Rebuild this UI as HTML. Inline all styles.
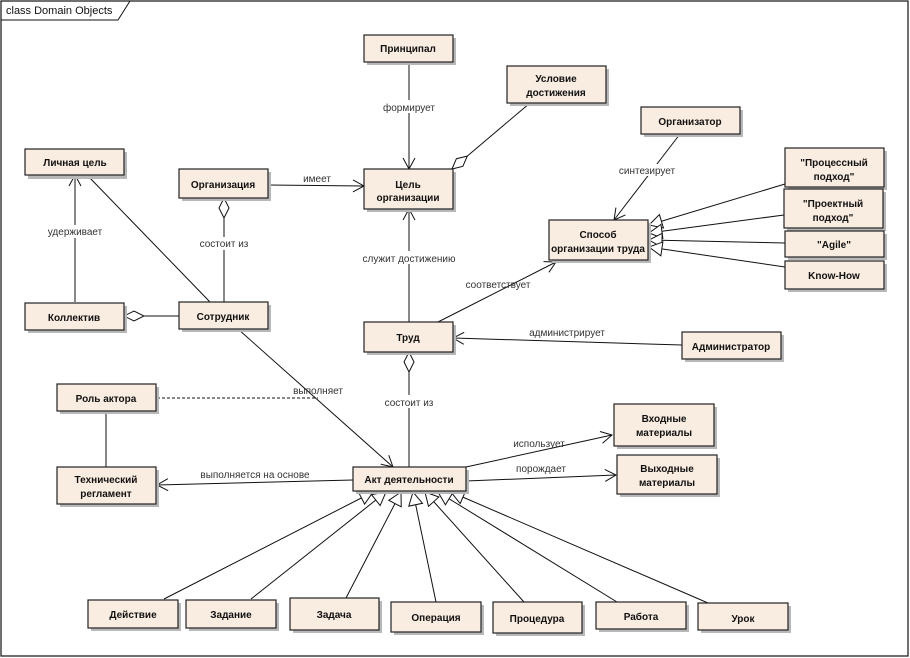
<!DOCTYPE html>
<html><head><meta charset="utf-8"><style>
html,body{margin:0;padding:0;background:#fff;}
svg{display:block;}
.b{fill:#f9ece0;stroke:#222;stroke-width:1.2;}
.s{fill:#b8b8b8;}
.t{font-family:"Liberation Sans","Noto Sans CJK SC",sans-serif;font-size:10px;font-weight:bold;fill:#111;text-anchor:middle;}
.l{font-family:"Liberation Sans","Noto Sans CJK SC",sans-serif;font-size:10px;fill:#333;text-anchor:middle;}
line,polyline{stroke:#111;stroke-width:1;fill:none;}
</style></head><body>
<svg width="910" height="658" viewBox="0 0 910 658" xmlns="http://www.w3.org/2000/svg">
<defs>
<marker id="ar" markerWidth="14" markerHeight="14" refX="12" refY="7" orient="auto" markerUnits="userSpaceOnUse">
<polyline points="1,1 12,7 1,13" style="stroke:#111;fill:none;stroke-width:1"/></marker>
<marker id="tr" markerWidth="16" markerHeight="16" refX="14" refY="8" orient="auto" markerUnits="userSpaceOnUse">
<polygon points="1,1 14,8 1,15" style="stroke:#111;fill:#fff;stroke-width:1"/></marker>
<marker id="dm" markerWidth="24" markerHeight="12" refX="1" refY="6" orient="auto" markerUnits="userSpaceOnUse">
<polygon points="1,6 11,1 21,6 11,11" style="stroke:#111;fill:#fff;stroke-width:1"/></marker>
</defs>
<rect x="1" y="1" width="907" height="655" fill="#fff" stroke="#111" stroke-width="1.2"/>
<polyline points="1,20 118,20 130,1" style="stroke:#111"/>
<text x="6" y="14" style="font-family:'Liberation Sans',sans-serif;font-size:11px;fill:#111">class Domain Objects</text>

<line x1="409" y1="62" x2="409" y2="169" marker-end="url(#ar)"/>
<line x1="452" y1="169" x2="530" y2="103" marker-start="url(#dm)"/>
<line x1="268" y1="185" x2="364" y2="186" marker-end="url(#ar)"/>
<line x1="409" y1="322" x2="409" y2="209" marker-end="url(#ar)"/>
<line x1="75" y1="302" x2="75" y2="175" marker-end="url(#ar)"/>
<line x1="89" y1="177" x2="210" y2="302"/>
<line x1="224" y1="198" x2="224" y2="302" marker-start="url(#dm)"/>
<line x1="124" y1="316" x2="179" y2="316" marker-start="url(#dm)"/>
<line x1="238" y1="329" x2="393" y2="467" marker-end="url(#ar)"/>
<line x1="157" y1="398" x2="318" y2="398" style="stroke-dasharray:3,2"/>
<line x1="106" y1="413" x2="106" y2="467"/>
<line x1="353" y1="480" x2="157" y2="485" marker-end="url(#ar)"/>
<line x1="409" y1="352" x2="409" y2="467" marker-start="url(#dm)"/>
<line x1="466" y1="467" x2="612" y2="435" marker-end="url(#ar)"/>
<line x1="466" y1="481" x2="616" y2="475" marker-end="url(#ar)"/>
<line x1="438" y1="322" x2="556" y2="262" marker-end="url(#ar)"/>
<line x1="682" y1="345" x2="453" y2="338" marker-end="url(#ar)"/>
<line x1="680" y1="134" x2="614" y2="220" marker-end="url(#ar)"/>
<line x1="785" y1="184" x2="649" y2="225" marker-end="url(#tr)"/>
<line x1="784" y1="215" x2="649" y2="233" marker-end="url(#tr)"/>
<line x1="785" y1="243" x2="649" y2="240" marker-end="url(#tr)"/>
<line x1="785" y1="267" x2="649" y2="247" marker-end="url(#tr)"/>
<line x1="164" y1="599" x2="373" y2="492" marker-end="url(#tr)"/>
<line x1="251" y1="599" x2="386" y2="492" marker-end="url(#tr)"/>
<line x1="346" y1="598" x2="401" y2="492" marker-end="url(#tr)"/>
<line x1="436" y1="602" x2="413" y2="492" marker-end="url(#tr)"/>
<line x1="524" y1="602" x2="425" y2="492" marker-end="url(#tr)"/>
<line x1="617" y1="602" x2="438" y2="492" marker-end="url(#tr)"/>
<line x1="708" y1="603" x2="451" y2="492" marker-end="url(#tr)"/>

<g class="l">
<rect x="376" y="100" width="66" height="13" fill="#fff"/><text x="409" y="111">формирует</text>
<text x="317" y="182">имеет</text>
<rect x="358" y="251" width="104" height="13" fill="#fff"/><text x="409" y="262">служит достижению</text>
<rect x="44" y="225" width="62" height="13" fill="#fff"/><text x="75" y="235">удерживает</text>
<rect x="196" y="237" width="56" height="13" fill="#fff"/><text x="224" y="247">состоит из</text>
<text x="318" y="394">выполняет</text>
<rect x="380" y="395" width="58" height="13" fill="#fff"/><text x="409" y="406">состоит из</text>
<text x="255" y="478">выполняется на основе</text>
<text x="539" y="447">использует</text>
<text x="541" y="472">порождает</text>
<text x="498" y="288">соответствует</text>
<text x="567" y="336">администрирует</text>
<rect x="614" y="164" width="66" height="12" fill="#fff"/><text x="647" y="174">синтезирует</text>
</g>

<g>
<rect class="s" x="367" y="38" width="89" height="27"/><rect class="b" x="364" y="35" width="89" height="27"/><text class="t" x="408" y="52">Принципал</text>
<rect class="s" x="510" y="69" width="99" height="37"/><rect class="b" x="507" y="66" width="99" height="37"/><text class="t" x="556" y="82">Условие</text><text class="t" x="556" y="96">достижения</text>
<rect class="s" x="367" y="172" width="89" height="40"/><rect class="b" x="364" y="169" width="89" height="40"/><text class="t" x="408" y="188">Цель</text><text class="t" x="408" y="201">организации</text>
<rect class="s" x="28" y="152" width="99" height="27"/><rect class="b" x="25" y="149" width="99" height="26"/><text class="t" x="75" y="166">Личная цель</text>
<rect class="s" x="182" y="172" width="89" height="29"/><rect class="b" x="179" y="169" width="89" height="29"/><text class="t" x="223" y="188">Организация</text>
<rect class="s" x="28" y="306" width="99" height="27"/><rect class="b" x="25" y="303" width="99" height="27"/><text class="t" x="74" y="321">Коллектив</text>
<rect class="s" x="182" y="305" width="89" height="27"/><rect class="b" x="179" y="302" width="89" height="27"/><text class="t" x="223" y="320">Сотрудник</text>
<rect class="s" x="644" y="110" width="99" height="27"/><rect class="b" x="641" y="107" width="99" height="27"/><text class="t" x="690" y="125">Организатор</text>
<rect class="s" x="788" y="151" width="99" height="39"/><rect class="b" x="785" y="148" width="99" height="39"/><text class="t" x="834" y="166">"Процессный</text><text class="t" x="834" y="180">подход"</text>
<rect class="s" x="787" y="192" width="99" height="39"/><rect class="b" x="784" y="189" width="99" height="39"/><text class="t" x="833" y="207">"Проектный</text><text class="t" x="833" y="221">подход"</text>
<rect class="s" x="788" y="234" width="99" height="26"/><rect class="b" x="785" y="231" width="99" height="26"/><text class="t" x="834" y="248">"Agile"</text>
<rect class="s" x="788" y="264" width="99" height="28"/><rect class="b" x="785" y="261" width="99" height="28"/><text class="t" x="834" y="279">Know-How</text>
<rect class="s" x="552" y="223" width="99" height="40"/><rect class="b" x="549" y="220" width="99" height="40"/><text class="t" x="598" y="238">Способ</text><text class="t" x="598" y="252">организации труда</text>
<rect class="s" x="367" y="325" width="89" height="30"/><rect class="b" x="364" y="322" width="89" height="30"/><text class="t" x="408" y="341">Труд</text>
<rect class="s" x="685" y="335" width="99" height="27"/><rect class="b" x="682" y="332" width="99" height="27"/><text class="t" x="731" y="350">Администратор</text>
<rect class="s" x="60" y="387" width="99" height="27"/><rect class="b" x="57" y="384" width="99" height="27"/><text class="t" x="106" y="402">Роль актора</text>
<rect class="s" x="60" y="470" width="99" height="37"/><rect class="b" x="57" y="467" width="99" height="37"/><text class="t" x="106" y="483">Технический</text><text class="t" x="106" y="497">регламент</text>
<rect class="s" x="356" y="470" width="113" height="24"/><rect class="b" x="353" y="467" width="113" height="24"/><text class="t" x="409" y="483">Акт деятельности</text>
<rect class="s" x="617" y="407" width="100" height="42"/><rect class="b" x="614" y="404" width="100" height="42"/><text class="t" x="664" y="422">Входные</text><text class="t" x="664" y="436">материалы</text>
<rect class="s" x="620" y="458" width="100" height="39"/><rect class="b" x="617" y="455" width="100" height="39"/><text class="t" x="667" y="472">Выходные</text><text class="t" x="667" y="486">материалы</text>
<rect class="s" x="91" y="603" width="90" height="28"/><rect class="b" x="88" y="600" width="90" height="28"/><text class="t" x="133" y="618">Действие</text>
<rect class="s" x="189" y="603" width="90" height="28"/><rect class="b" x="186" y="600" width="90" height="28"/><text class="t" x="231" y="618">Задание</text>
<rect class="s" x="293" y="601" width="89" height="32"/><rect class="b" x="290" y="598" width="89" height="32"/><text class="t" x="334" y="618">Задача</text>
<rect class="s" x="394" y="605" width="90" height="30"/><rect class="b" x="391" y="602" width="90" height="30"/><text class="t" x="436" y="621">Операция</text>
<rect class="s" x="496" y="605" width="89" height="31"/><rect class="b" x="493" y="602" width="89" height="31"/><text class="t" x="537" y="622">Процедура</text>
<rect class="s" x="599" y="605" width="90" height="27"/><rect class="b" x="596" y="602" width="90" height="27"/><text class="t" x="641" y="620">Работа</text>
<rect class="s" x="701" y="606" width="90" height="27"/><rect class="b" x="698" y="603" width="90" height="27"/><text class="t" x="743" y="622">Урок</text>
</g>
</svg>
</body></html>
